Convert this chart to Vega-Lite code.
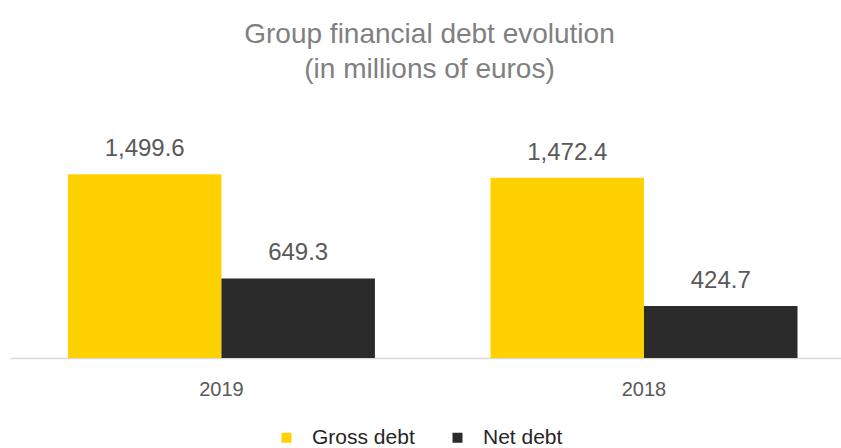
{
  "$schema": "https://vega.github.io/schema/vega-lite/v6.json",
  "width": 831,
  "height": 196,
  "autosize": {"type": "none"},
  "padding": {"left": 10, "top": 162, "right": 0, "bottom": 90},
  "background": "white",
  "title": {
    "text": ["Group financial debt evolution", "(in millions of euros)"],
    "font": "Liberation Sans",
    "fontSize": 28,
    "fontWeight": "normal",
    "color": "#808080",
    "lineHeight": 35,
    "offset": 53,
    "dx": 4,
    "anchor": "middle"
  },
  "data": {
    "values": [
      {"year": "2019", "type": "Gross debt", "value": 1499.6},
      {"year": "2019", "type": "Net debt", "value": 649.3},
      {"year": "2018", "type": "Gross debt", "value": 1472.4},
      {"year": "2018", "type": "Net debt", "value": 424.7}
    ]
  },
  "encoding": {
    "x": {
      "field": "year",
      "type": "nominal",
      "sort": ["2019", "2018"],
      "scale": {"paddingInner": 0.2734, "paddingOuter": 0.12, "align": 0.571},
      "axis": {
        "title": null,
        "labelAngle": 0,
        "ticks": false,
        "domainColor": "#d9d9d9",
        "domainWidth": 1.5,
        "labelFont": "Liberation Sans",
        "labelFontSize": 20,
        "labelColor": "#595959",
        "labelPadding": 21
      }
    },
    "xOffset": {
      "field": "type",
      "type": "nominal",
      "sort": ["Gross debt", "Net debt"],
      "scale": {"paddingInner": 0, "paddingOuter": 0}
    },
    "y": {
      "field": "value",
      "type": "quantitative",
      "scale": {"domain": [0, 1600]},
      "axis": null
    }
  },
  "layer": [
    {
      "mark": {"type": "bar"},
      "encoding": {
        "color": {
          "field": "type",
          "type": "nominal",
          "scale": {"domain": ["Gross debt", "Net debt"], "range": ["#FFD100", "#2B2B2B"]},
          "legend": {
            "title": null,
            "orient": "none",
            "legendX": 266,
            "legendY": 265,
            "direction": "horizontal",
            "symbolType": "square",
            "symbolSize": 100,
            "symbolStrokeWidth": 0,
            "labelFont": "Liberation Sans",
            "labelFontSize": 21,
            "labelColor": "#262626",
            "labelOffset": 15,
            "columnPadding": 32
          }
        }
      }
    },
    {
      "mark": {
        "type": "text",
        "baseline": "bottom",
        "dy": -13,
        "font": "Liberation Sans",
        "fontSize": 24,
        "color": "#595959"
      },
      "encoding": {
        "text": {"field": "value", "type": "quantitative", "format": ",.1f"}
      }
    }
  ],
  "config": {"view": {"stroke": null}}
}
